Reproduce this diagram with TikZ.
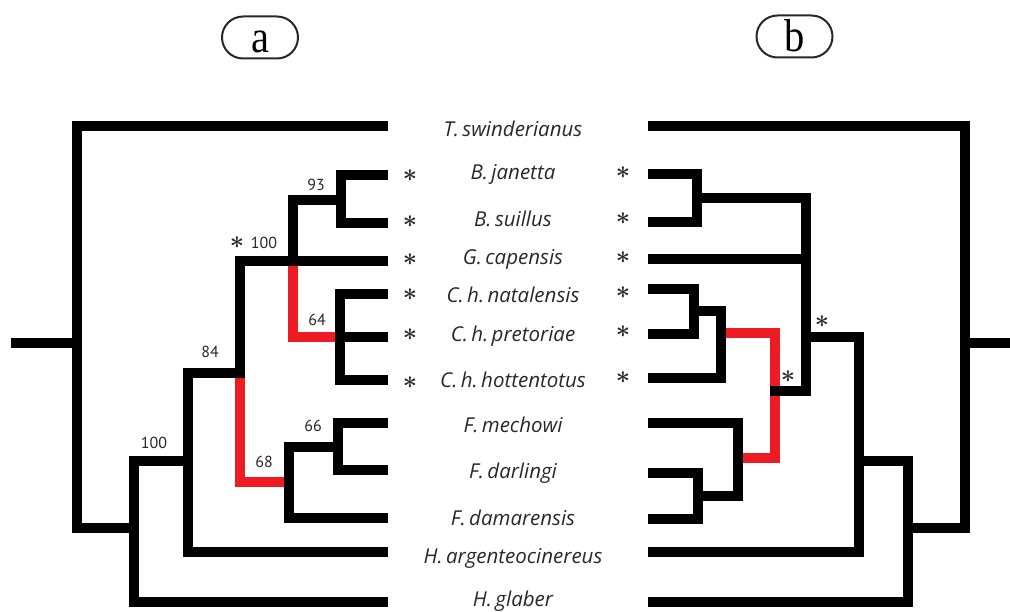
\documentclass[tikz,border=0pt]{standalone}
\usepackage{fontspec}
\setmainfont{Liberation Serif}
\newfontfamily\taxfont{Open Sans}
\newfontfamily\numfont{PT Sans}
\definecolor{altred}{RGB}{237,28,36}
\definecolor{ink}{RGB}{40,40,40}
\tikzset{
  br/.style={line width=10pt, line join=miter, line cap=butt, draw=black},
  altbr/.style={br, draw=altred},
  taxon/.style={font=\taxfont\itshape\fontsize{20.5}{20.5}\selectfont, text=ink, anchor=base, inner sep=0pt},
  support/.style={font=\numfont\fontsize{16}{16}\selectfont, text=ink, inner sep=0pt},
  leafstar/.style={font=\fontsize{30}{30}\selectfont\boldmath, text=ink, inner sep=0pt},
  nodestar/.style={font=\fontsize{25}{25}\selectfont\boldmath, text=ink, inner sep=0pt},
  panel/.style={draw=ink, line width=2pt, rounded corners=21pt, minimum width=76pt,
    minimum height=42pt, inner sep=0pt, text height=31pt, text depth=0pt,
    font=\fontsize{46}{46}\selectfont}
}
\begin{document}
\begin{tikzpicture}[x=1pt, y=-1pt]
\useasboundingbox (0,0) rectangle (1010,612);

% panel tags
\node[panel] (pa) at (260,37.5) {\scalebox{0.88}[1]{a}};
\node[panel] (pb) at (794.5,36.5) {\scalebox{0.88}[1]{b}};

% ---------------- tree (a): leaf tips ----------------
\coordinate (aT)   at (388,126);
\coordinate (aBj)  at (388,175);
\coordinate (aBs)  at (388,223);
\coordinate (aG)   at (388,261);
\coordinate (aCn)  at (388,294);
\coordinate (aCp)  at (388,337);
\coordinate (aCh)  at (388,380);
\coordinate (aFm)  at (388,423);
\coordinate (aFdl) at (388,470);
\coordinate (aFdm) at (388,518);
\coordinate (aHa)  at (388,552);
\coordinate (aHg)  at (388,602);
% internal nodes (attachment points)
\coordinate (aStub) at (11,343);
\coordinate (aR)   at (77,343);
\coordinate (a100) at (134,528);
\coordinate (a84)  at (188,461);
\coordinate (aX)   at (240,373);
\coordinate (aBG)  at (293,261);
\coordinate (aB)   at (341,200);
\coordinate (aC)   at (340,337);
\coordinate (aF)   at (289,482);
\coordinate (aFa)  at (338,447);

% alternative placements
\draw[altbr] (aBG) |- (aC);
\draw[altbr] (aX) |- (aF);
% branches
\draw[br] (aStub) -- (aR);
\draw[br] (aT) -| (aR) |- (a100);
\draw[br] (a84) -| (a100) |- (aHg);
\draw[br] (aG) -| (aX) -| (a84) |- (aHa);
\draw[br] (aB) -| (aBG);
\draw[br] (aBj) -| (aB) |- (aBs);
\draw[br] (aCn) -| (aC) |- (aCh);
\draw[br] (aC) -- (aCp);
\draw[br] (aFm) -| (aFa) |- (aFdl);
\draw[br] (aFa) -| (aF) |- (aFdm);

% support values
\node[support] (s93)  at (316,184.5) {93};
\node[support] (s100a) at (264,242.5) {100};
\node[nodestar] (st100) at (237,243) {$\ast$};
\node[support] (s64)  at (317,320) {64};
\node[support] (s84)  at (210,352) {84};
\node[support] (s100b) at (154,443) {100};
\node[support] (s66)  at (313,426) {66};
\node[support] (s68)  at (264,462) {68};

% ---------------- tree (b): leaf tips ----------------
\coordinate (bT)   at (648,126);
\coordinate (bBj)  at (648,174);
\coordinate (bBs)  at (648,222);
\coordinate (bG)   at (648,259);
\coordinate (bCn)  at (648,289);
\coordinate (bCp)  at (648,334);
\coordinate (bCh)  at (648,378);
\coordinate (bFm)  at (648,423);
\coordinate (bFdl) at (648,473);
\coordinate (bFdm) at (648,519);
\coordinate (bHa)  at (648,552);
\coordinate (bHg)  at (648,602);
% internal nodes
\coordinate (bStub) at (1010,343);
\coordinate (bR)  at (965,343);
\coordinate (b1)  at (908,528);
\coordinate (b2)  at (859,461);
\coordinate (b3)  at (806,337);
\coordinate (bB)  at (697,198);
\coordinate (bCi) at (694,311);
\coordinate (bC)  at (721,333);
\coordinate (bJ)  at (775,391);
\coordinate (bF)  at (738,458);
\coordinate (bFi) at (698,496);

% alternative placement
\draw[altbr] (bC) -| (bJ) |- (bF);
% branches
\draw[br] (bStub) -- (bR);
\draw[br] (bT) -| (bR) |- (b1);
\draw[br] (b2) -| (b1) |- (bHg);
\draw[br] (b3) -| (b2) |- (bHa);
\draw[br, shorten >=-5pt] (bB) -| (b3) |- (bJ);
\draw[br] (bG) -- (bG -| b3);
\draw[br] (bBj) -| (bB) |- (bBs);
\draw[br] (bCn) -| (bCi) |- (bCp);
\draw[br] (bCi) -| (bC) |- (bCh);
\draw[br] (bFdl) -| (bFi) |- (bFdm);
\draw[br] (bFm) -| (bF) |- (bFi);

\node[nodestar] (stb3) at (822,322) {$\ast$};
\node[nodestar] (stbJ) at (788,377) {$\ast$};

% ---------------- taxon names ----------------
\node[taxon] (tT)   at (513,137) {T.\,swinderianus};
\node[taxon] (tBj)  at (513,180) {B.\,janetta};
\node[taxon] (tBs)  at (513,227) {B.\,suillus};
\node[taxon] (tG)   at (513,265) {G.\,capensis};
\node[taxon] (tCn)  at (513,303) {C.\,h.\,natalensis};
\node[taxon] (tCp)  at (513,342) {C.\,h.\,pretoriae};
\node[taxon] (tCh)  at (513,388) {C.\,h.\,hottentotus};
\node[taxon] (tFm)  at (513,432) {F.\,mechowi};
\node[taxon] (tFdl) at (513,478) {F.\,darlingi};
\node[taxon] (tFdm) at (513,525) {F.\,damarensis};
\node[taxon] (tHa)  at (513,563) {H.\,argenteocinereus};
\node[taxon] (tHg)  at (513,606) {H.\,glaber};

% leaf stars
\foreach \n/\y in {Bj/176, Bs/222, G/260, Cn/295, Cp/335, Ch/383}
  \node[leafstar] (la\n) at (410,\y) {$\ast$};
\foreach \n/\y in {Bj/173, Bs/219, G/258, Cn/293, Cp/332, Ch/378}
  \node[leafstar] (lb\n) at (623,\y) {$\ast$};
\end{tikzpicture}
\end{document}
